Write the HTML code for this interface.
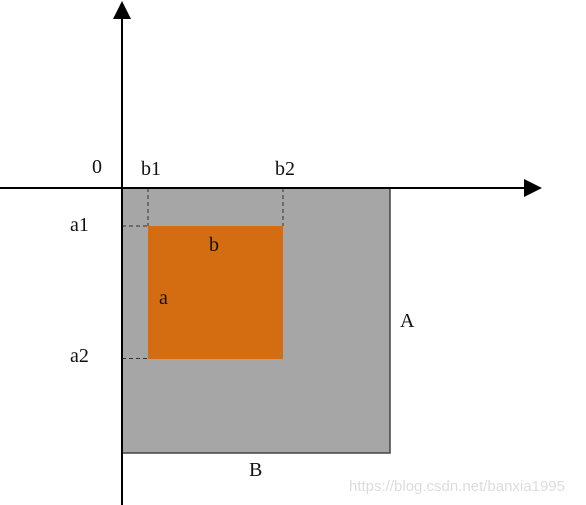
<!DOCTYPE html>
<html><head><meta charset="utf-8"><style>
html,body{margin:0;padding:0;background:#fff;width:586px;height:505px;overflow:hidden}
svg text{font-family:"Liberation Serif",serif;font-size:20px;fill:#111}
</style></head><body>
<svg width="586" height="505" viewBox="0 0 586 505">
<rect x="122" y="188" width="268" height="265" fill="#a6a6a6" stroke="#444" stroke-width="1.5"/>
<rect x="148" y="226" width="135" height="133" fill="#d46d12"/>
<g stroke="#333" stroke-width="1" stroke-dasharray="4,3" fill="none">
<line x1="148" y1="188" x2="148" y2="226"/>
<line x1="283" y1="188" x2="283" y2="226"/>
<line x1="122" y1="226" x2="148" y2="226"/>
<line x1="122" y1="358.5" x2="148" y2="358.5"/>
</g>
<line x1="0" y1="188" x2="526" y2="188" stroke="#000" stroke-width="2"/>
<polygon points="542,188 524,179 524,197" fill="#000"/>
<line x1="122" y1="505" x2="122" y2="18" stroke="#000" stroke-width="2"/>
<polygon points="122,1 113,19 131,19" fill="#000"/>
<text x="92" y="173">0</text>
<text x="141" y="175">b1</text>
<text x="275" y="175">b2</text>
<text x="70" y="231">a1</text>
<text x="70" y="362">a2</text>
<text x="209" y="251">b</text>
<text x="159" y="304">a</text>
<text x="400" y="327">A</text>
<text x="249" y="476">B</text>
<text x="349" y="491" style="font-family:'Liberation Sans',sans-serif;font-size:15px;fill:#ddd">https://blog.csdn.net/banxia1995</text>
</svg>
</body></html>
